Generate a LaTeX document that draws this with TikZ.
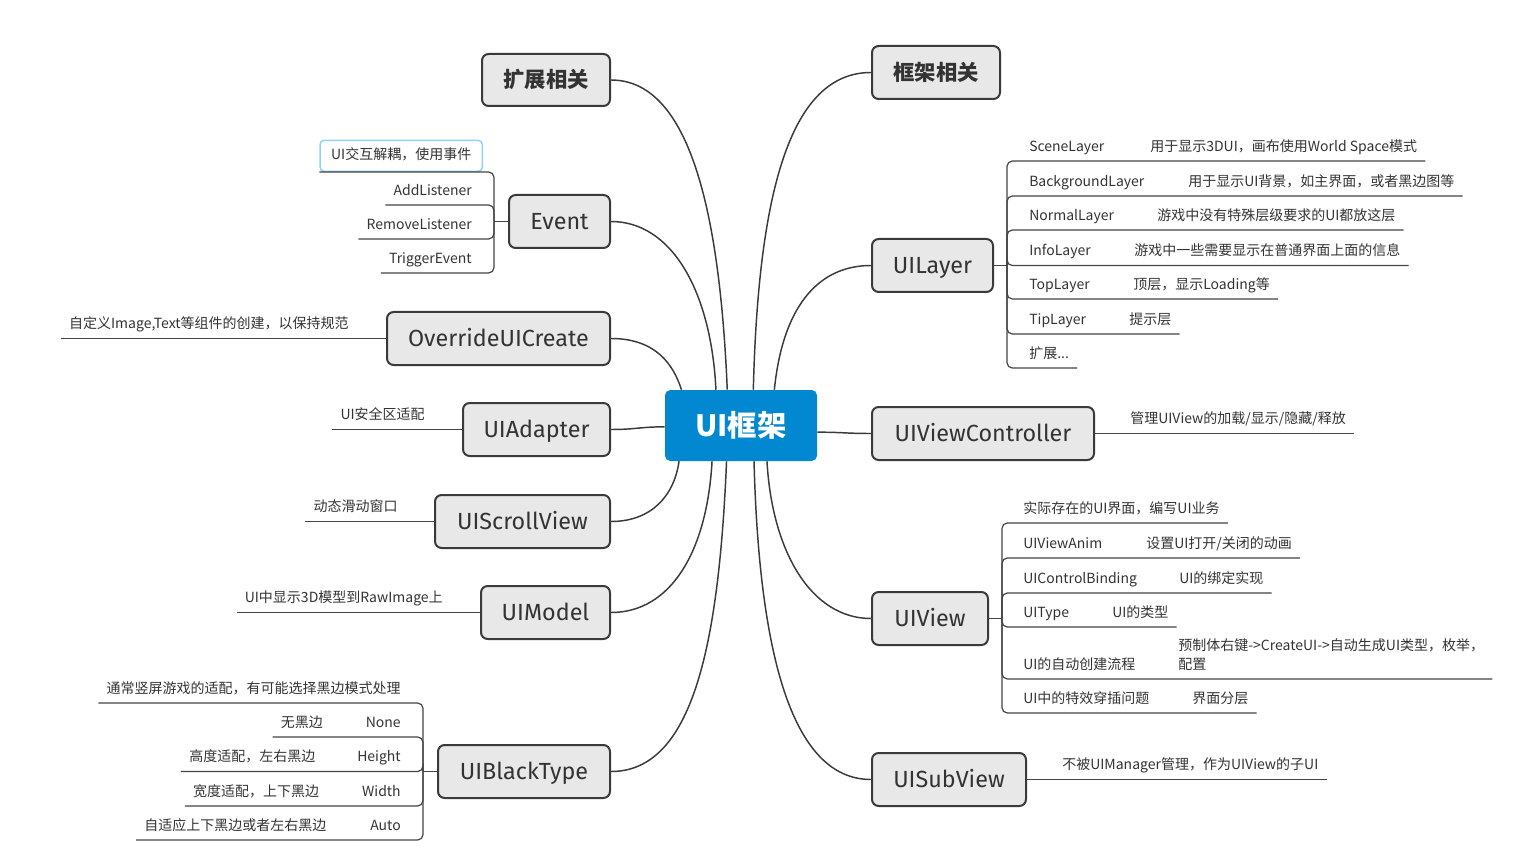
\documentclass[tikz,border=0pt]{standalone}
\usepackage{fontspec}
\setmainfont{Noto Sans CJK SC}
\newfontfamily\latinf{Fira Sans}
\usetikzlibrary{calc}
\definecolor{rootblue}{HTML}{0288D1}
\definecolor{nodefill}{HTML}{E8E8E8}
\definecolor{nodeborder}{HTML}{3A3A3A}
\definecolor{linec}{HTML}{3A3A3A}
\definecolor{subline}{HTML}{444444}
\definecolor{textc}{HTML}{333333}
\definecolor{hl}{HTML}{8ED3F5}
\newcommand\pxw[1]{\dimexpr #1pt*3/4\relax}
\begin{document}
\begin{tikzpicture}[x=0.75pt,y=-0.75pt,
  root/.style={fill=rootblue, rounded corners=4pt, inner sep=0pt, minimum width=114pt, minimum height=53.25pt, text=white, font=\fontsize{22}{26}\selectfont\bfseries},
  topic/.style={draw=nodeborder, fill=nodefill, line width=1.5pt, rounded corners=5pt, inner sep=0pt, minimum height=39.75pt, text height=12pt, text depth=0pt, text=textc, font=\fontsize{17.5}{20}\selectfont\latinf},
  topicb/.style={topic, text height=11.5pt, font=\fontsize{16}{19}\selectfont\bfseries},
  leaf/.style={inner xsep=6pt, inner ysep=4.5pt, text height=7.5pt, text depth=2.5pt, text=textc, font=\fontsize{10.5}{14}\selectfont},
  leafL/.style={leaf, anchor=south east},
  leafR/.style={leaf, anchor=south west},
  mainline/.style={draw=linec, line width=1.1pt},
  subl/.style={draw=subline, line width=0.9pt, rounded corners=4pt}
]
\useasboundingbox (0,0) rectangle (1528,866);

% central
\node[root] (c) at (741,425.5) {UI框架};

% main topics
\node[topicb, minimum width=96pt, minimum height=39pt] (kz) at (546,80) {扩展相关};
\node[topicb, minimum width=96pt] (kj) at (936,72.5) {框架相关};
\node[topic, minimum width=75.75pt] (ev) at (559.5,221.5) {Event};
\node[topic, minimum width=167.25pt] (ov) at (498.5,338.5) {OverrideUICreate};
\node[topic, minimum width=110.25pt] (ad) at (536.5,429.5) {UIAdapter};
\node[topic, minimum width=131.25pt] (sv) at (522.5,521.5) {UIScrollView};
\node[topic, minimum width=96.75pt] (md) at (545.5,612.5) {UIModel};
\node[topic, minimum width=129pt] (bt) at (524,771.5) {UIBlackType};
\node[topic, minimum width=90.75pt] (ly) at (932.5,265.5) {UILayer};
\node[topic, minimum width=166.5pt] (vc) at (983,433.5) {UIViewController};
\node[topic, minimum width=87pt] (vw) at (930,618.5) {UIView};
\node[topic, minimum width=115.5pt] (sb) at (949,779.5) {UISubView};

% main connectors
\draw[mainline] (kz.east) .. controls +(75,0) and +(-8,-190) .. (c.111.5);
\draw[mainline] (ev.east) .. controls +(60,0) and +(-5,-100) .. (c.125.2);
\draw[mainline] (ov.east) .. controls +(45,0) and +(-8,-25) .. (c.149.8);
\draw[mainline] (ad.east) .. controls +(25,0) and +(-25,0) .. (c.181.1);
\draw[mainline] (sv.east) .. controls +(40,0) and +(-5,35) .. (c.210.2);
\draw[mainline] (md.east) .. controls +(60,0) and +(-5,90) .. (c.231.7);
\draw[mainline] (bt.east) .. controls +(80,0) and +(-8,190) .. (c.248.5);
\draw[mainline] (c.71.3) .. controls +(5,-200) and +(-80,0) .. (kj.west);
\draw[mainline] (c.47.1) .. controls +(8,-80) and +(-55,0) .. (ly.west);
\draw[mainline] (c.355.9) .. controls +(25,0) and +(-25,0) .. (vc.west);
\draw[mainline] (c.306.2) .. controls +(5,90) and +(-60,0) .. (vw.west);
\draw[mainline] (c.290.1) .. controls +(5,190) and +(-80,0) .. (sb.west);

% Event children
\coordinate (evs) at (494,221.5);
\node[leaf, anchor=south east, draw=hl, line width=1.1pt, rounded corners=3pt, inner xsep=8.25pt, inner ysep=6.6pt] (e0) at (483,172) {UI交互解耦，使用事件};
\node[leafL] (e1) at (480,205) {AddListener};
\node[leafL] (e2) at (480,239) {RemoveListener};
\node[leafL] (e3) at (480,273) {TriggerEvent};
\draw[subl] (ev.west) -- (evs);
\foreach \n in {e0,e1,e2,e3} \draw[subl] (evs) |- (\n.south west);

% simple left children
\node[leafL] (ovd) at (357,338.5) {自定义Image,Text等组件的创建，以保持规范};
\draw[subl] (ov.west) -- (ovd.south west);
\node[leafL] (add) at (433,429.5) {UI安全区适配};
\draw[subl] (ad.west) -- (add.south west);
\node[leafL] (svd) at (406,521.5) {动态滑动窗口};
\draw[subl] (sv.west) -- (svd.south west);
\node[leafL] (mdd) at (451,612.5) {UI中显示3D模型到RawImage上};
\draw[subl] (md.west) -- (mdd.south west);

% UIBlackType children
\coordinate (bts) at (423,771.5);
\node[leafL] (b0) at (409,703) {通常竖屏游戏的适配，有可能选择黑边模式处理};
\node[leafL] (b1) at (409,737) {无黑边\hspace{\pxw{43}}None};
\node[leafL] (b2) at (409,771.5) {高度适配，左右黑边\hspace{\pxw{42}}Height};
\node[leafL] (b3) at (409,806) {宽度适配，上下黑边\hspace{\pxw{43}}Width};
\node[leafL] (b4) at (409,840) {自适应上下黑边或者左右黑边\hspace{\pxw{44}}Auto};
\draw[subl] (bt.west) -- (bts);
\foreach \n in {b0,b1,b2,b3,b4} \draw[subl] (bts) |- (\n.south west);

% UILayer children
\coordinate (lys) at (1007,265.5);
\node[leafR] (l1) at (1021,161) {\makebox[\pxw{121}][l]{SceneLayer}用于显示3DUI，画布使用World Space模式};
\node[leafR] (l2) at (1021,196) {\makebox[\pxw{159}][l]{BackgroundLayer}用于显示UI背景，如主界面，或者黑边图等};
\node[leafR] (l3) at (1021,230) {\makebox[\pxw{128}][l]{NormalLayer}游戏中没有特殊层级要求的UI都放这层};
\node[leafR] (l4) at (1021,265.5) {\makebox[\pxw{105}][l]{InfoLayer}游戏中一些需要显示在普通界面上面的信息};
\node[leafR] (l5) at (1021,299) {\makebox[\pxw{104}][l]{TopLayer}顶层，显示Loading等};
\node[leafR] (l6) at (1021,334) {\makebox[\pxw{100}][l]{TipLayer}提示层};
\node[leafR] (l7) at (1021,368) {扩展...};
\draw[subl] (ly.east) -- (lys);
\foreach \n in {l1,l2,l3,l4,l5,l6,l7} \draw[subl] (lys) |- (\n.south east);

% simple right children
\node[leafR] (vcd) at (1122,433.5) {管理UIView的加载/显示/隐藏/释放};
\draw[subl] (vc.east) -- (vcd.south east);
\node[leafR] (sbd) at (1054,779.5) {不被UIManager管理，作为UIView的子UI};
\draw[subl] (sb.east) -- (sbd.south east);

% UIView children
\coordinate (vws) at (1002,618.5);
\node[leafR] (v1) at (1015,523) {实际存在的UI界面，编写UI业务};
\node[leafR] (v2) at (1015,558) {\makebox[\pxw{123}][l]{UIViewAnim}设置UI打开/关闭的动画};
\node[leafR] (v3) at (1015,593) {\makebox[\pxw{156}][l]{UIControlBinding}UI的绑定实现};
\node[leafR] (v4) at (1015,627) {\makebox[\pxw{89}][l]{UIType}UI的类型};
\node[leafR] (v5) at (1015,679) {\makebox[\pxw{155}][l]{UI的自动创建流程}\begin{tabular}[b]{@{}l@{}}预制体右键->CreateUI->自动生成UI类型，枚举，\\配置\end{tabular}};
\node[leafR] (v6) at (1015,713) {\makebox[\pxw{169}][l]{UI中的特效穿插问题}界面分层};
\draw[subl] (vw.east) -- (vws);
\foreach \n in {v1,v2,v3,v4,v5,v6} \draw[subl] (vws) |- (\n.south east);
\end{tikzpicture}
\end{document}
